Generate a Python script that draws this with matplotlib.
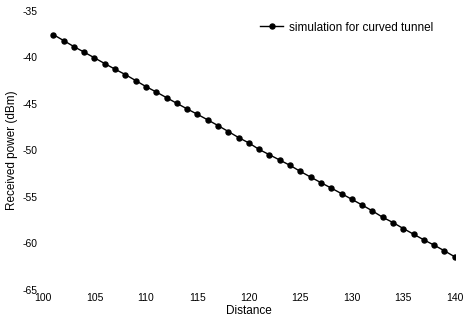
import matplotlib
matplotlib.use("Agg")
import matplotlib.pyplot as plt

plt.rcParams['font.family'] = ['Liberation Sans', 'DejaVu Sans']

distance = list(range(101, 141))
power = [-37.55, -38.19, -38.84, -39.44, -40.05, -40.67, -41.27, -41.85, -42.49, -43.14,
         -43.72, -44.33, -44.94, -45.54, -46.12, -46.72, -47.33, -47.97, -48.62, -49.20,
         -49.90, -50.47, -51.04, -51.61, -52.26, -52.87, -53.47, -54.05, -54.65, -55.26,
         -55.87, -56.51, -57.19, -57.76, -58.40, -59.01, -59.62, -60.19, -60.80, -61.44]
xticks = [100, 105, 110, 115, 120, 125, 130, 135, 140]
yticks = [-65, -60, -55, -50, -45, -40, -35]

fig = plt.figure(figsize=(4.65, 3.2), dpi=100)
ax = fig.add_axes([0.0925, 0.094, 0.8855, 0.872])
ax.plot(distance, power, color='black', linewidth=1.0, marker='o', markersize=3.6,
        label='simulation for curved tunnel')
ax.set_xlim(100, 140)
ax.set_ylim(-65, -35)
ax.set_xticks(xticks)
ax.set_yticks(yticks)
ax.set_xticklabels([str(t) for t in xticks], fontsize=7.5)
ax.set_yticklabels([str(t) for t in yticks], fontsize=7.5)
ax.tick_params(axis='both', length=0)
ax.tick_params(axis='x', pad=2)
ax.tick_params(axis='y', pad=4)
for s in ax.spines.values():
    s.set_visible(False)
ax.set_xlabel('Distance', fontsize=8.5, labelpad=2)
ax.set_ylabel('Received power (dBm)', fontsize=8.5, labelpad=3)
ax.legend(loc='upper right', bbox_to_anchor=(0.973, 1.0), frameon=False, fontsize=8.5,
          handlelength=1.9, handletextpad=0.5)
fig.savefig('out.png', dpi=100)
